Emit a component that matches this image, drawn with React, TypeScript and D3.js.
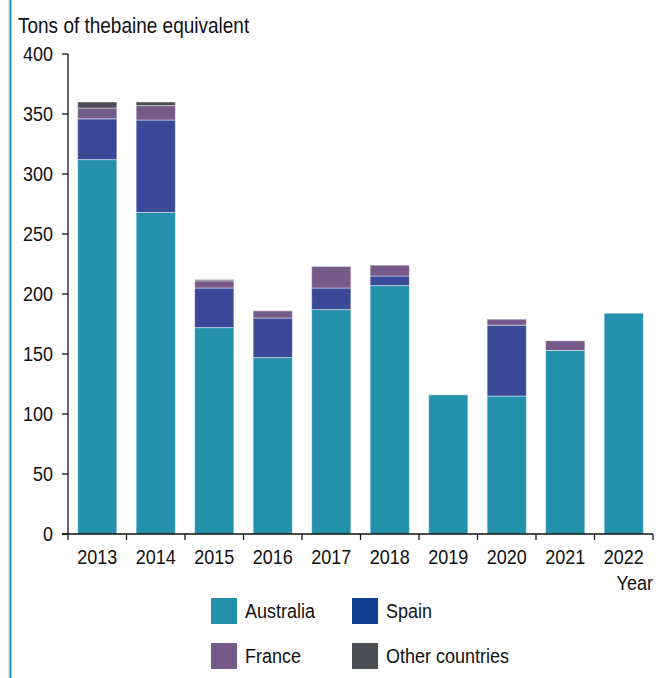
import React from "react";
import * as d3 from "d3";

const years = ["2013", "2014", "2015", "2016", "2017", "2018", "2019", "2020", "2021", "2022"];
const australia = [312, 268, 172, 147, 187, 207, 116, 115, 153, 184];
const spain = [34, 77, 33, 33, 18, 8, 0, 59, 0, 0];
const france = [9, 12, 6, 6, 18, 9, 0, 5, 8, 0];
const other = [5, 3, 1, 0, 0, 0, 0, 0, 0, 0];
const yTicks = [0, 50, 100, 150, 200, 250, 300, 350, 400];

const seriesKeys = ["Australia", "Spain", "France", "Other countries"];
const barColors = ["#2391AC", "#3A4898", "#765A89", "#4B4E53"];
const legendColors = ["#2391AC", "#133F93", "#765A89", "#4B4E53"];

const FONT = "'Liberation Sans', Arial, sans-serif";

function T({ x, y, anchor = "start", size = 18, children, dy }: any) {
  return (
    <g transform={`translate(${x},${y}) scale(1,1.12)`}>
      <text x={0} y={0} dy={dy} textAnchor={anchor} fontSize={size} fill="#111">{children}</text>
    </g>
  );
}

export default function App() {
  const W = 662, H = 678;
  const x0 = 68, x1 = 653, yTop = 54, yBot = 534;
  const x = d3.scaleBand<string>().domain(years).range([x0, x1]).paddingInner(0.33).paddingOuter(0.165);
  const y = d3.scaleLinear().domain([0, 400]).range([yBot, yTop]);

  const table = years.map((yr, i) => ({
    year: yr,
    Australia: australia[i],
    Spain: spain[i],
    France: france[i],
    "Other countries": other[i],
  }));
  const stacked = d3.stack<any>().keys(seriesKeys)(table);
  const step = x.step();

  return (
    <svg width={W} height={H} style={{ position: "absolute", left: 0, top: 0, background: "#fff" }}
      fontFamily={FONT}>
      <line x1={9} x2={9} y1={0} y2={H} stroke="#c8c8c8" strokeWidth={1} />
      <line x1={10.5} x2={10.5} y1={0} y2={H} stroke="#0A80C0" strokeWidth={1.6} />
      <T x={18} y={33} size={19}>Tons of thebaine equivalent</T>

      {stacked.map((s, si) => (
        <g key={s.key}>
          {s.map((d, i) => {
            const h = y(d[0]) - y(d[1]);
            if (h <= 0) return null;
            return (
              <rect key={i} x={x(years[i])} y={y(d[1])} width={x.bandwidth()} height={h}
                fill={barColors[si]} stroke="rgba(255,255,255,0.45)" strokeWidth={1} />
            );
          })}
        </g>
      ))}

      {/* y axis */}
      <line x1={x0} x2={x0} y1={yTop} y2={yBot} stroke="#111" strokeWidth={1.3} />
      {yTicks.map((t) => (
        <g key={t}>
          <line x1={x0 - 6} x2={x0} y1={y(t)} y2={y(t)} stroke="#111" strokeWidth={1.3} />
          <T x={x0 - 15} y={y(t) + 7} anchor="end">{t}</T>
        </g>
      ))}

      {/* x axis */}
      <line x1={x0 - 6} x2={x1} y1={yBot} y2={yBot} stroke="#111" strokeWidth={1.3} />
      {d3.range(years.length + 1).map((k) => (
        <line key={k} x1={x0 + k * step} x2={x0 + k * step} y1={yBot} y2={yBot + 6} stroke="#111" strokeWidth={1.3} />
      ))}
      {years.map((yr) => (
        <T key={yr} x={(x(yr) as number) + x.bandwidth() / 2} y={564} anchor="middle">{yr}</T>
      ))}
      <T x={x1} y={590} anchor="end">Year</T>

      {/* legend */}
      {seriesKeys.map((k, i) => {
        const col = i % 2, row = Math.floor(i / 2);
        const lx = 211 + col * 141;
        const ly = 598 + row * 45;
        return (
          <g key={k}>
            <rect x={lx} y={ly} width={26} height={26} fill={legendColors[i]} />
            <T x={lx + 34} y={ly + 20}>{k}</T>
          </g>
        );
      })}
    </svg>
  );
}
